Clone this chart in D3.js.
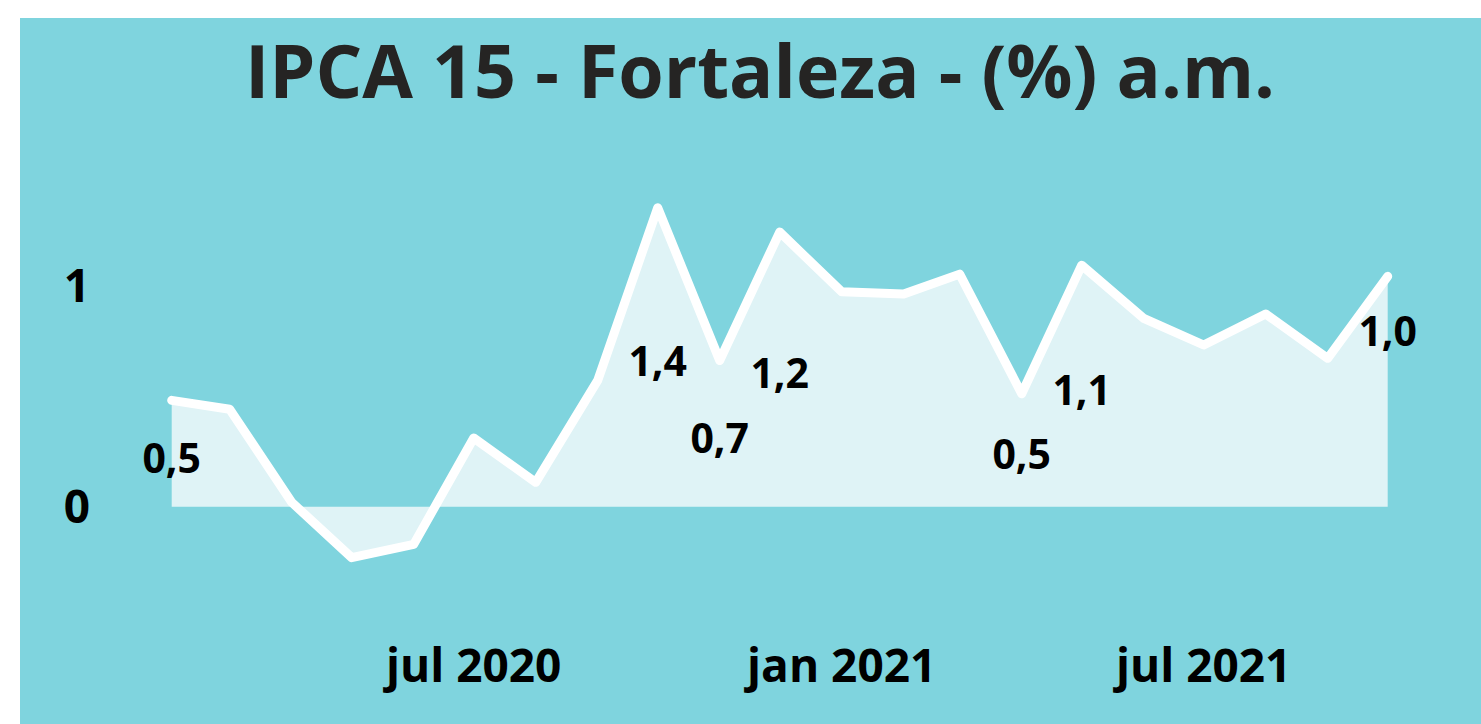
<!DOCTYPE html>
<html>
<head>
<meta charset="utf-8">
<script src="https://cdn.jsdelivr.net/npm/d3@7"></script>
<style>
  html, body { margin: 0; padding: 0; background: #fff; }
  svg { display: block; }
</style>
</head>
<body>
<div id="chart"></div>
<script>
// monthly IPCA-15 Fortaleza, % a.m.
const months = [
  "2020-02", "2020-03", "2020-04", "2020-05", "2020-06", "2020-07", "2020-08",
  "2020-09", "2020-10", "2020-11", "2020-12", "2021-01", "2021-02", "2021-03",
  "2021-04", "2021-05", "2021-06", "2021-07", "2021-08", "2021-09", "2021-10"
];
const values = [
  0.48, 0.44, 0.02, -0.23, -0.17, 0.31, 0.11,
  0.57, 1.35, 0.66, 1.24, 0.97, 0.96, 1.05,
  0.51, 1.09, 0.85, 0.73, 0.87, 0.67, 1.04
];
// months that carry a data label
const labeledMonths = ["2020-02", "2020-10", "2020-11", "2020-12", "2021-04", "2021-05", "2021-10"];
const xTicks = ["2020-07", "2021-01", "2021-07"];
const xTickLabels = ["jul 2020", "jan 2021", "jul 2021"];
const yTicks = [0, 1];
const titleText = "IPCA 15 - Fortaleza - (%) a.m.";

const W = 1481, H = 724;
const font = "'Open Sans', 'Noto Sans', sans-serif";
const parse = d3.timeParse("%Y-%m");
const data = months.map((m, i) => ({ date: parse(m), month: m, value: values[i] }));

const svg = d3.select("#chart").append("svg")
  .attr("width", W)
  .attr("height", H);

// teal panel
svg.append("rect")
  .attr("x", 20).attr("y", 18)
  .attr("width", W - 20).attr("height", H - 18)
  .attr("fill", "#7fd4de");

svg.append("text")
  .attr("x", 760).attr("y", 98)
  .attr("text-anchor", "middle")
  .attr("font-family", font)
  .attr("font-weight", 700)
  .attr("font-size", "73.5px")
  .attr("fill", "#252423")
  .text(titleText);

const x = d3.scaleTime()
  .domain(d3.extent(data, d => d.date))
  .range([171.7, 1387.7]);

const y = d3.scaleLinear()
  .domain([-0.3, 1.5])
  .range([573.15, 174.45]);

const fmt = d3.formatLocale({ decimal: ",", thousands: ".", grouping: [3], currency: ["R$", ""] }).format(".1f");

// area between zero and the series
const area = d3.area()
  .x(d => x(d.date))
  .y0(y(0))
  .y1(d => y(d.value));

svg.append("path")
  .datum(data)
  .attr("d", area)
  .attr("fill", "#dff3f6");

const line = d3.line()
  .x(d => x(d.date))
  .y(d => y(d.value));

svg.append("path")
  .datum(data)
  .attr("d", line)
  .attr("fill", "none")
  .attr("stroke", "#fff")
  .attr("stroke-width", 9)
  .attr("stroke-linejoin", "round")
  .attr("stroke-linecap", "round");

// y axis labels
svg.append("g")
  .selectAll("text")
  .data(yTicks)
  .join("text")
  .attr("x", 77)
  .attr("y", d => y(d))
  .attr("dy", "0.36em")
  .attr("text-anchor", "middle")
  .attr("font-family", font)
  .attr("font-weight", 700)
  .attr("font-size", "46px")
  .attr("fill", "#000")
  .text(d => d);

// x axis labels
svg.append("g")
  .selectAll("text")
  .data(xTicks)
  .join("text")
  .attr("x", d => x(parse(d)))
  .attr("y", 682)
  .attr("text-anchor", "middle")
  .attr("font-family", font)
  .attr("font-weight", 700)
  .attr("font-size", "46px")
  .attr("fill", "#000")
  .text((d, i) => xTickLabels[i]);

// data labels: inside the area at half height, last one just under its point
const lastMonth = months[months.length - 1];
svg.append("g")
  .selectAll("text")
  .data(data.filter(d => labeledMonths.includes(d.month)))
  .join("text")
  .attr("x", d => x(d.date))
  .attr("y", d => d.month === lastMonth ? y(d.value) + 70 : y(d.value / 2) + 19)
  .attr("text-anchor", "middle")
  .attr("font-family", font)
  .attr("font-weight", 700)
  .attr("font-size", "41px")
  .attr("fill", "#000")
  .text(d => fmt(d.value));
</script>
</body>
</html>
